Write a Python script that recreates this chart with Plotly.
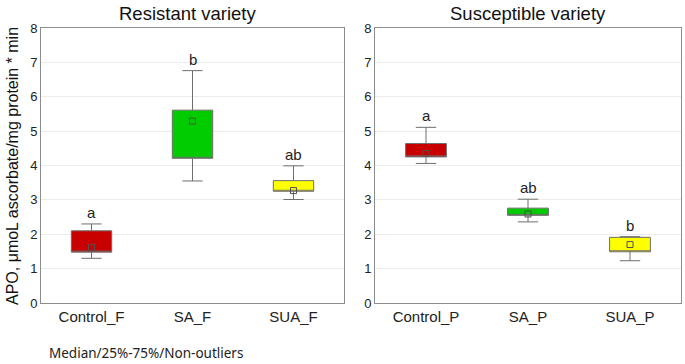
import plotly.graph_objects as go

# ---- data ----
cats_res = ["Control_F", "SA_F", "SUA_F"]
cats_sus = ["Control_P", "SA_P", "SUA_P"]

res_q1 = [1.48, 4.21, 3.25]
res_median = [1.61, 5.29, 3.27]
res_q3 = [2.10, 5.61, 3.56]
res_low = [1.30, 3.55, 3.01]
res_high = [2.30, 6.76, 3.99]
res_letters = ["a", "b", "ab"]

sus_q1 = [4.25, 2.55, 1.49]
sus_median = [4.35, 2.59, 1.70]
sus_q3 = [4.64, 2.76, 1.91]
sus_low = [4.06, 2.36, 1.23]
sus_high = [5.11, 3.02, 1.93]
sus_letters = ["a", "ab", "b"]

box_colors = ["#C80000", "#00CC00", "#FFFF00"]

y_ticks = [0, 1, 2, 3, 4, 5, 6, 7, 8]

FONT = "Liberation Sans, Arial, sans-serif"

fig = go.Figure()


def add_panel(cats, q1, med, q3, lo, hi, letters, xa, ya):
    for i, c in enumerate(cats):
        fig.add_trace(go.Box(
            x=[c], q1=[q1[i]], median=[q1[i]], q3=[q3[i]],
            lowerfence=[lo[i]], upperfence=[hi[i]],
            fillcolor=box_colors[i],
            line=dict(color="#6e6e6e", width=1),
            width=0.4, whiskerwidth=0.5,
            boxpoints=False, showlegend=False,
            xaxis=xa, yaxis=ya,
        ))
    fig.add_trace(go.Scatter(
        x=cats, y=med, mode="markers",
        marker=dict(symbol="square-open", size=6, color="#505050",
                    line=dict(width=1, color="#505050")),
        showlegend=False, xaxis=xa, yaxis=ya,
    ))
    for i, c in enumerate(cats):
        fig.add_annotation(
            x=c, y=hi[i], xref=xa, yref=ya, text=letters[i],
            showarrow=False, yanchor="bottom", yshift=1,
            font=dict(family=FONT, size=15, color="#222"),
        )


add_panel(cats_res, res_q1, res_median, res_q3, res_low, res_high, res_letters, "x", "y")
add_panel(cats_sus, sus_q1, sus_median, sus_q3, sus_low, sus_high, sus_letters, "x2", "y2")

W, H = 685, 364
ml, mr, mt, mb = 41, 4, 28, 61
pw = W - ml - mr
ph = H - mt - mb

xd1 = [0, (344 - ml) / pw]
xd2 = [(375 - ml) / pw, 1]

axis_common = dict(
    showline=True, linecolor="#8c8c8c", linewidth=1, mirror=True,
    zeroline=False,
)

fig.update_layout(
    width=W, height=H,
    margin=dict(l=ml, r=mr, t=mt, b=mb),
    paper_bgcolor="white", plot_bgcolor="white",
    font=dict(family=FONT, color="#222"),
    xaxis=dict(domain=xd1, anchor="y", categoryorder="array", categoryarray=cats_res,
               range=[-0.5, 2.5], showgrid=False,
               tickfont=dict(size=15, family=FONT, color="#222"), **axis_common),
    yaxis=dict(domain=[0, 1], anchor="x", range=[0, 8], tickvals=y_ticks,
               showgrid=True, gridcolor="#ececec", gridwidth=1,
               tickfont=dict(size=13, family=FONT, color="#222"), **axis_common),
    xaxis2=dict(domain=xd2, anchor="y2", categoryorder="array", categoryarray=cats_sus,
                range=[-0.5, 2.5], showgrid=False,
                tickfont=dict(size=15, family=FONT, color="#222"), **axis_common),
    yaxis2=dict(domain=[0, 1], anchor="x2", range=[0, 8], tickvals=y_ticks,
                showgrid=True, gridcolor="#ececec", gridwidth=1,
                tickfont=dict(size=13, family=FONT, color="#222"), **axis_common),
)

# panel titles
fig.add_annotation(x=(187 - ml) / pw, y=1 + 15 / ph, xref="paper", yref="paper",
                   text="Resistant variety", showarrow=False,
                   xanchor="center", yanchor="middle",
                   font=dict(family=FONT, size=18.5, color="#111"))
fig.add_annotation(x=(528 - ml) / pw, y=1 + 15 / ph, xref="paper", yref="paper",
                   text="Susceptible variety", showarrow=False,
                   xanchor="center", yanchor="middle",
                   font=dict(family=FONT, size=18.5, color="#111"))

# y axis title
fig.add_annotation(x=(12 - ml) / pw, y=(303 - 166) / ph, xref="paper", yref="paper",
                   text="APO, μmoL ascorbate/mg protein * min", textangle=-90,
                   showarrow=False, xanchor="center", yanchor="middle",
                   font=dict(family=FONT, size=16, color="#111"))

# footnote
fig.add_annotation(x=(47 - ml) / pw, y=(303 - 353) / ph, xref="paper", yref="paper",
                   text="Median/25%-75%/Non-outliers", showarrow=False,
                   xanchor="left", yanchor="middle",
                   font=dict(family="Noto Sans, Open Sans, sans-serif", size=13.5, color="#222"))

fig.write_html("out.html",
               config={"displayModeBar": False},
               post_script="document.body.style.margin='0px';document.body.style.overflow='hidden';")
